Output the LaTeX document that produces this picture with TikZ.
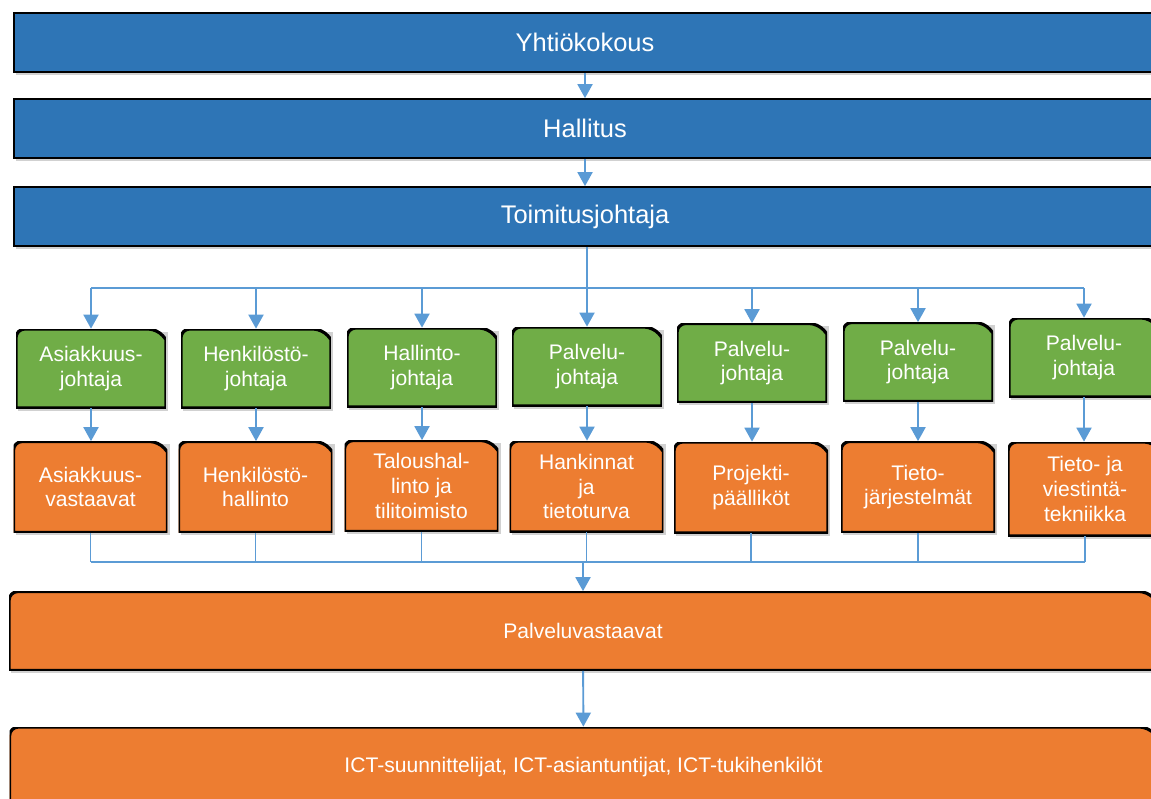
\documentclass[tikz,border=0pt]{standalone}
\usepackage{fontspec}
\setmainfont{Liberation Sans}
\usetikzlibrary{arrows.meta, shadows}
\definecolor{topblue}{RGB}{46,117,182}
\definecolor{leadgreen}{RGB}{112,173,71}
\definecolor{unitorange}{RGB}{237,125,49}
\definecolor{linkblue}{RGB}{91,155,213}
\begin{document}
\begin{tikzpicture}[
      x=0.02cm, y=-0.02cm,
      shade/.style={drop shadow={shadow xshift=1.2pt, shadow yshift=-1.5pt,
      fill=black, opacity=0.18}},
      lead/.style={rectangle, draw=black, line width=1pt, fill=topblue,
      text=white, minimum width=22.84cm, minimum height=1.18cm,
      font=\fontsize{14.5}{17}\selectfont, shade},
      tab/.style={rectangle, shade, align=center, text=white, inner sep=1pt,
      font=\fontsize{12}{14}\selectfont,
      path picture={\draw[fill=#1, line width=1.8pt]
        (path picture bounding box.south west)
        [rounded corners=5pt] |- ([xshift=-5pt]path picture bounding box.north east)
        [sharp corners] -- ([yshift=-6pt]path picture bounding box.north east)
        -- (path picture bounding box.south east) -- cycle;}},
      johto/.style={tab=leadgreen, minimum width=3cm, minimum height=1.58cm},
      yksikko/.style={tab=unitorange, minimum width=3.08cm, minimum height=1.82cm},
      laaja/.style={tab=unitorange, minimum width=22.96cm, minimum height=1.58cm},
      link/.style={draw=linkblue, line width=1.1pt},
      arr/.style={link, -{Triangle[width=0.3cm, length=0.28cm]}}
    ]
    \useasboundingbox (0,0) rectangle (1151,798);
    \clip (0,0) rectangle (1151,798);

    % Top levels
    \node[lead] (yhtio) at (585,42.5) {Yhtiökokous};
    \node[lead] (hallitus) at (585,128.5) {Hallitus};
    \node[lead] (toimjoht) at (585,216.5) {Toimitusjohtaja};

    % Directors
    \node[johto] (j1) at (91,368.5) {Asiakkuus-\\johtaja};
    \node[johto] (j2) at (256,368.5) {Henkilöstö-\\johtaja};
    \node[johto] (j3) at (422,367.5) {Hallinto-\\johtaja};
    \node[johto] (j4) at (587,366.5) {Palvelu-\\johtaja};
    \node[johto] (j5) at (752,363) {Palvelu-\\johtaja};
    \node[johto] (j6) at (918,362) {Palvelu-\\johtaja};
    \node[johto] (j7) at (1084,357.5) {Palvelu-\\johtaja};

    % Units
    \node[yksikko] (u1) at (90.5,487) {Asiakkuus-\\vastaavat};
    \node[yksikko] (u2) at (255.5,487) {Henkilöstö-\\hallinto};
    \node[yksikko] (u3) at (421.5,486) {Taloushal-\\linto ja\\tilitoimisto};
    \node[yksikko] (u4) at (586.5,486.5) {Hankinnat\\ja\\tietoturva};
    \node[yksikko] (u5) at (751,487.5) {Projekti-\\päälliköt};
    \node[yksikko] (u6) at (918,487) {Tieto-\\järjestelmät};
    \node[yksikko, minimum height=1.88cm] (u7) at (1085,489)
    {Tieto- ja\\viestintä-\\tekniikka};

    % Bottom levels
    \node[laaja] (palvelu) at (583,631) {Palveluvastaavat};
    \node[laaja, minimum height=1.6cm] (ict) at (583.5,767)
    {ICT-suunnittelijat, ICT-asiantuntijat, ICT-tukihenkilöt};

    % Connectors
    \coordinate (bus1) at (585,288);
    \coordinate (bus2) at (585,562);
    \draw[arr] (yhtio) -- (hallitus);
    \draw[arr] (hallitus) -- (toimjoht);
    \draw[arr] (toimjoht.south -| j4.north) -- (j4.north);
    \draw[link] (j1.north |- bus1) -- (j7.north |- bus1);
    \foreach \i in {1,2,3,5,6,7}
      \draw[arr] (j\i.north |- bus1) -- (j\i.north);
    \foreach \i in {1,...,7}{
      \draw[arr] (j\i.south) -- (j\i.south |- u\i.north);
      \draw[link] (u\i.south) -- (u\i.south |- bus2);
    }
    \draw[link] (u1.south |- bus2) -- (u7.south |- bus2);
    \draw[arr] (palvelu.north |- bus2) -- (palvelu.north);
    \draw[arr] (palvelu) -- (ict);

  \end{tikzpicture}
\end{document}
